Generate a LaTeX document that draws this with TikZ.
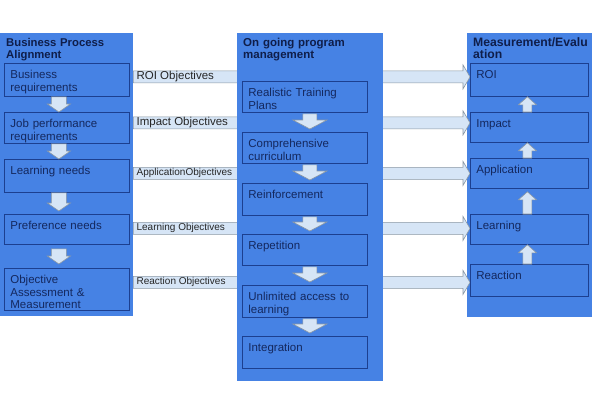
\documentclass[tikz,border=0pt]{standalone}
\usepackage{fontspec}
\setmainfont{Liberation Sans}
\usetikzlibrary{calc}
\definecolor{panelblue}{HTML}{4682E4}
\definecolor{boxline}{HTML}{1C3F8F}
\definecolor{txtblue}{HTML}{14285E}
\definecolor{ttlblue}{HTML}{0F1E4A}
\definecolor{arrfill}{HTML}{D6E5F6}
\definecolor{arrline}{HTML}{8A97A3}
\pgfdeclarelayer{bg}
\pgfdeclarelayer{mid}
\pgfsetlayers{bg,mid,main}

\begin{document}
\begin{tikzpicture}[x=1pt, y=-1pt,
  font=\fontsize{11.5}{12.5}\selectfont, text=txtblue,
  panel/.style={fill=panelblue, anchor=north west, inner xsep=6pt, inner ysep=0pt,
    align=left, text height=13pt, text=ttlblue, font=\fontsize{11.5}{12}\selectfont\bfseries},
  box/.style={draw=boxline, line width=0.8pt, fill=panelblue, anchor=north west,
    inner xsep=6pt, inner ysep=0pt, align=left, text height=15.5pt},
  lbox/.style={box, text width=113pt, text depth=#1},
  rbox/.style={box, text width=106pt, text depth=#1},
  objlbl/.style={anchor=west, inner xsep=3pt, inner ysep=0pt, text=black!85},
  blk/.style={draw=arrline, fill=arrfill, line width=0.6pt},
  dnarr/.style n args={3}{to path={let \p1=(\tikztostart), \p2=(\tikztotarget) in
    (\x1-#1,\y1) -- (\x1-#1,\y2+#3) -- (\x1-#2,\y2+#3) -- (\x1,\y2)
    -- (\x1+#2,\y2+#3) -- (\x1+#1,\y2+#3) -- (\x1+#1,\y1) -- cycle}},
  uparr/.style n args={3}{to path={let \p1=(\tikztostart), \p2=(\tikztotarget) in
    (\x1-#1,\y1) -- (\x1-#1,\y2-#3) -- (\x1-#2,\y2-#3) -- (\x1,\y2)
    -- (\x1+#2,\y2-#3) -- (\x1+#1,\y2-#3) -- (\x1+#1,\y1) -- cycle}},
  rtarr/.style n args={3}{to path={let \p1=(\tikztostart), \p2=(\tikztotarget) in
    (\x1,\y1+#1) -- (\x2-#3,\y1+#1) -- (\x2-#3,\y1+#2) -- (\x2,\y1)
    -- (\x2-#3,\y1-#2) -- (\x2-#3,\y1-#1) -- (\x1,\y1-#1) -- cycle}}]
  \useasboundingbox (0,0) rectangle (600,400);
  % Panels
  \begin{pgfonlayer}{bg}
    \node[panel, text width=121pt, text depth=270pt, font=\fontsize{11.3}{12}\selectfont\bfseries]
      (lp) at (0,33) {Business Process\\Alignment};
    \node[panel, text width=113pt, text depth=271pt, font=\fontsize{12.2}{12}\selectfont\bfseries]
      (rp) at (467,33) {Measurement/Evalu\\ation};
  \end{pgfonlayer}
  \node[panel, text width=134pt, text depth=335pt] (mp) at (237,33) {On going program\\management};
  % Business process alignment
  \node[lbox=17.5pt] (b1) at (4,63)  {Business\\requirements};
  \node[lbox=15.5pt] (b2) at (4,112) {Job performance\\requirements};
  \node[lbox=17.5pt] (b3) at (4,159) {Learning needs};
  \node[lbox=14.5pt] (b4) at (4,214) {Preference needs};
  \node[lbox=26.5pt] (b5) at (4,268) {Objective\\Assessment \&\\Measurement};
  % On going program management
  \node[lbox=15.5pt] (m1) at (242,81)  {Realistic Training\\Plans};
  \node[lbox=15.5pt] (m2) at (242,132) {Comprehensive\\curriculum};
  \node[lbox=16.5pt] (m3) at (242,183) {Reinforcement};
  \node[lbox=15.5pt] (m4) at (242,234) {Repetition};
  \node[lbox=16.5pt] (m5) at (242,285) {Unlimited access to\\learning};
  \node[lbox=16.5pt] (m6) at (242,336) {Integration};
  % Measurement / evaluation
  \node[rbox=17.5pt] (r1) at (470,63)  {ROI};
  \node[rbox=14.5pt] (r2) at (470,112) {Impact};
  \node[rbox=14.5pt] (r3) at (470,158) {Application};
  \node[rbox=14.5pt] (r4) at (470,214) {Learning};
  \node[rbox=16.5pt] (r5) at (470,264) {Reaction};
  % Flow arrows
  \draw[blk, dnarr={7.5pt}{11.5pt}{8pt}] ($(b1.south)+(-8,0)$) to ($(b2.north)+(-8,0)$);
  \draw[blk, dnarr={7.5pt}{11.5pt}{8pt}] ($(b2.south)+(-8,0)$) to ($(b3.north)+(-8,0)$);
  \draw[blk, dnarr={7.5pt}{11.5pt}{8pt}] ($(b3.south)+(-8,0)$) to ($(b4.north)+(-8,-3)$);
  \draw[blk, dnarr={7.5pt}{11.5pt}{8pt}] ($(b4.south)+(-8,4)$) to ($(b5.north)+(-8,-4)$);
  \draw[blk, dnarr={7pt}{17pt}{9pt}] ($(m1.south)+(5,1)$) to ($(m2.north)+(5,-3)$);
  \draw[blk, dnarr={7pt}{17pt}{9pt}] ($(m2.south)+(5,1)$) to ($(m3.north)+(5,-3)$);
  \draw[blk, dnarr={7pt}{17pt}{9pt}] ($(m3.south)+(5,1)$) to ($(m4.north)+(5,-3)$);
  \draw[blk, dnarr={7pt}{17pt}{9pt}] ($(m4.south)+(5,1)$) to ($(m5.north)+(5,-3)$);
  \draw[blk, dnarr={7pt}{17pt}{9pt}] ($(m5.south)+(5,1)$) to ($(m6.north)+(5,-3)$);
  \draw[blk, uparr={4.5pt}{9pt}{8pt}] ($(r5.north)+(-2,0)$) to ($(r4.south)+(-2,0)$);
  \draw[blk, uparr={4.5pt}{9pt}{8pt}] ($(r4.north)+(-2,0)$) to ($(r3.south)+(-2,3)$);
  \draw[blk, uparr={4.5pt}{9pt}{8pt}] ($(r3.north)+(-2,0)$) to ($(r2.south)+(-2,0)$);
  \draw[blk, uparr={4.5pt}{9pt}{8pt}] ($(r2.north)+(-2,0)$) to ($(r1.south)+(-2,0)$);
  % Objective bands
  \begin{pgfonlayer}{mid}
    \draw[blk, rtarr={6pt}{12pt}{7pt}] ($(lp.east |- r1.west)+(0,-3)$) to (r1.west);
    \draw[blk, rtarr={6pt}{12pt}{7pt}] ($(lp.east |- r2.west)+(0,-4.5)$) to (r2.west);
    \draw[blk, rtarr={6pt}{12pt}{7pt}] (lp.east |- r3.west) to (r3.west);
    \draw[blk, rtarr={6pt}{12pt}{7pt}] ($(lp.east |- r4.west)+(0,-1)$) to (r4.west);
    \draw[blk, rtarr={6pt}{12pt}{7pt}] ($(lp.east |- r5.west)+(0,2)$) to (r5.west);
  \end{pgfonlayer}
  \node[objlbl] (o1) at ($(lp.east |- r1.west)+(0,-3)$) {ROI Objectives};
  \node[objlbl] (o2) at ($(lp.east |- r2.west)+(0,-4.5)$) {Impact Objectives};
  \node[objlbl, font=\fontsize{10}{11}\selectfont] (o3) at (lp.east |- r3.west) {ApplicationObjectives};
  \node[objlbl, font=\fontsize{10}{11}\selectfont] (o4) at ($(lp.east |- r4.west)+(0,-1)$) {Learning Objectives};
  \node[objlbl, font=\fontsize{10}{11}\selectfont] (o5) at ($(lp.east |- r5.west)+(0,2)$) {Reaction Objectives};
\end{tikzpicture}
\end{document}
